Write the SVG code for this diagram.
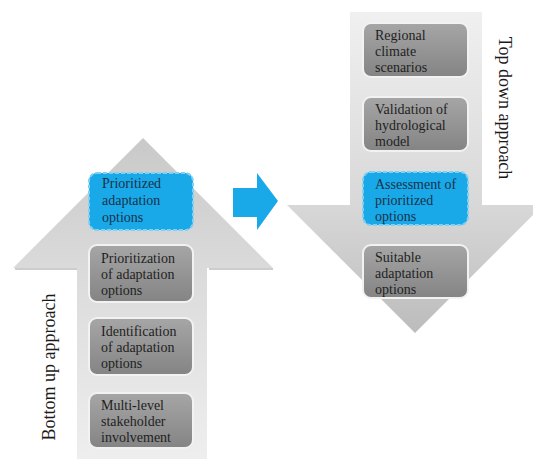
<svg xmlns="http://www.w3.org/2000/svg" width="533" height="459" viewBox="0 0 533 459">
<style>
.t{font-family:"Liberation Serif","DejaVu Serif",serif;font-size:14px;fill:#1f1f1f}
.tb{font-family:"Liberation Serif","DejaVu Serif",serif;font-size:14px;fill:#17324a}
.lab{font-family:"Liberation Serif","DejaVu Serif",serif;font-size:18px;fill:#1a1a1a}
.box{fill:url(#gbox);stroke:#f2f2f2;stroke-width:2}
.bbox{fill:#1aa9e8;stroke:#7fd0f3;stroke-width:2;stroke-dasharray:4 2}
</style>
<defs>
<linearGradient id="gup" x1="0" y1="0" x2="0" y2="1">
<stop offset="0" stop-color="#c9c9c9"/>
<stop offset="0.45" stop-color="#dcdcdc"/>
<stop offset="1" stop-color="#eeeeee"/>
</linearGradient>
<linearGradient id="gdown" x1="0" y1="0" x2="0" y2="1">
<stop offset="0" stop-color="#f0f0f0"/>
<stop offset="0.6" stop-color="#d8d8d8"/>
<stop offset="1" stop-color="#bcbcbc"/>
</linearGradient>
<linearGradient id="gbox" x1="0" y1="0" x2="0" y2="1">
<stop offset="0" stop-color="#a6a6a6"/>
<stop offset="1" stop-color="#848484"/>
</linearGradient>
</defs>
<rect width="533" height="459" fill="#ffffff"/>
<g id="up-arrow">
<polygon points="77,459 77,268 13,268 143,138 273,268 207,268 207,459" fill="url(#gup)"/>
<polyline points="15,269 77,269" fill="none" stroke="#bdbdbd" stroke-width="1.5"/>
<polyline points="209,269 273,269" fill="none" stroke="#bdbdbd" stroke-width="1.5"/>
<text class="lab" transform="translate(55,367) rotate(-90)" text-anchor="middle">Bottom up approach</text>
</g>
<g id="down-arrow">
<polygon points="350,12 482,12 482,205 543,205 415,333 287,205 350,205" fill="url(#gdown)"/>
<text class="lab" transform="translate(499,108) rotate(90)" text-anchor="middle">Top down approach</text>
</g>
<g id="connectors">
<polygon points="233,188 257,188 257,173 278,201 257,230 257,217 233,217" fill="#1aa9e8"/>
</g>
<g id="n-prioritized">
<rect class="bbox" x="89" y="173" width="104" height="57" rx="8"/>
<text class="tb" x="102" y="188">Prioritized</text>
<text class="tb" x="102" y="205">adaptation</text>
<text class="tb" x="102" y="222">options</text>
</g>
<g id="n-prioritization">
<rect class="box" x="89" y="245" width="104" height="57" rx="8"/>
<text class="t" x="101" y="263">Prioritization</text>
<text class="t" x="101" y="279">of adaptation</text>
<text class="t" x="101" y="295">options</text>
</g>
<g id="n-identification">
<rect class="box" x="89" y="318" width="104" height="57" rx="8"/>
<text class="t" x="101" y="336">Identification</text>
<text class="t" x="101" y="352">of adaptation</text>
<text class="t" x="101" y="368">options</text>
</g>
<g id="n-multilevel">
<rect class="box" x="89" y="393" width="104" height="55" rx="8"/>
<text class="t" x="101" y="410">Multi-level</text>
<text class="t" x="101" y="426">stakeholder</text>
<text class="t" x="101" y="442">involvement</text>
</g>
<g id="n-regional">
<rect class="box" x="363" y="23" width="105" height="54" rx="8"/>
<text class="t" x="375" y="40">Regional</text>
<text class="t" x="375" y="56">climate</text>
<text class="t" x="375" y="72">scenarios</text>
</g>
<g id="n-validation">
<rect class="box" x="363" y="97" width="105" height="54" rx="8"/>
<text class="t" x="375" y="114">Validation of</text>
<text class="t" x="375" y="130">hydrological</text>
<text class="t" x="375" y="146">model</text>
</g>
<g id="n-assessment">
<rect class="bbox" x="363" y="172" width="105" height="53" rx="8"/>
<text class="tb" x="375" y="189">Assessment of</text>
<text class="tb" x="375" y="205">prioritized</text>
<text class="tb" x="375" y="221">options</text>
</g>
<g id="n-suitable">
<rect class="box" x="363" y="245" width="105" height="53" rx="8"/>
<text class="t" x="375" y="262">Suitable</text>
<text class="t" x="375" y="278">adaptation</text>
<text class="t" x="375" y="294">options</text>
</g>
</svg>
